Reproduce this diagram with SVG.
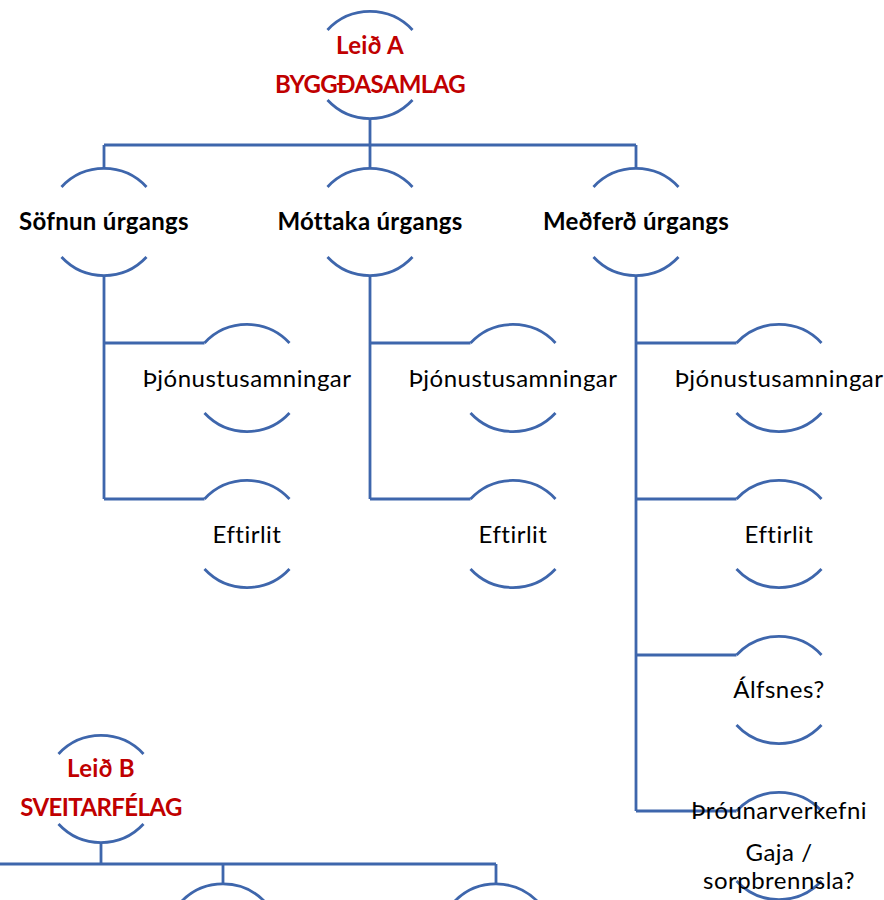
<svg xmlns="http://www.w3.org/2000/svg" width="884" height="900" viewBox="0 0 884 900">
<defs>
<style>
.arc{fill:none;stroke:#3E66AC;stroke-width:2.8}
.con{fill:none;stroke:#3E66AC;stroke-width:2.8}
.t{font-family:Lato,"Open Sans","Liberation Sans",sans-serif;font-size:24px;text-anchor:middle;fill:#000;letter-spacing:0.5px}
.b{font-weight:bold;letter-spacing:0.3px}
.r{fill:#C00000;font-weight:bold;letter-spacing:0.3px}
.cap{letter-spacing:-0.6px}
</style>
<path id="ring" class="arc" d="M-42.5,-35 A58,58 0 0 1 42.5,-35 M-42.5,35 A58,58 0 0 0 42.5,35"/>
</defs>
<rect width="884" height="900" fill="#fff"/>
<g id="connectors" class="con">
<path d="M370,118.5 V145 M104,145 H636 M104,145 V168.5 M370,145 V168.5 M636,145 V168.5"/>
<path d="M104,275.5 V499 M104,343 H204.5 M104,499 H204.5"/>
<path d="M370,275.5 V499 M370,343 H470.5 M370,499 H470.5"/>
<path d="M636,275.5 V811 M636,343 H736.5 M636,499 H736.5 M636,655 H736.5 M636,811 H736.5"/>
<path d="M101,842.5 V864 M0,864 H496 M223,864 V884 M496,864 V884"/>
</g>
<g id="leidA"><use href="#ring" x="370" y="65"/><text class="t r" x="370" y="54">Leið A</text><text class="t r cap" x="370" y="93">BYGGÐASAMLAG</text></g>
<g id="sofnun"><use href="#ring" x="104" y="222"/><text class="t b" x="104" y="230">Söfnun úrgangs</text></g>
<g id="mottaka"><use href="#ring" x="370" y="222"/><text class="t b" x="370" y="230">Móttaka úrgangs</text></g>
<g id="medferd"><use href="#ring" x="636" y="222"/><text class="t b" x="636" y="230">Meðferð úrgangs</text></g>
<g id="s-thjon"><use href="#ring" x="247" y="378"/><text class="t" x="247" y="387">Þjónustusamningar</text></g>
<g id="s-eft"><use href="#ring" x="247" y="534"/><text class="t" x="247" y="543">Eftirlit</text></g>
<g id="m-thjon"><use href="#ring" x="513" y="378"/><text class="t" x="513" y="387">Þjónustusamningar</text></g>
<g id="m-eft"><use href="#ring" x="513" y="534"/><text class="t" x="513" y="543">Eftirlit</text></g>
<g id="d-thjon"><use href="#ring" x="779" y="378"/><text class="t" x="779" y="387">Þjónustusamningar</text></g>
<g id="d-eft"><use href="#ring" x="779" y="534"/><text class="t" x="779" y="543">Eftirlit</text></g>
<g id="d-alf"><use href="#ring" x="779" y="690"/><text class="t" x="779" y="698">Álfsnes?</text></g>
<g id="d-thro"><use href="#ring" x="779" y="846"/><text class="t" x="779" y="819">Þróunarverkefni</text><text class="t" x="779" y="861">Gaja /</text><text class="t" x="779" y="889">sorpbrennsla?</text></g>
<g id="leidB"><use href="#ring" x="101" y="789"/><text class="t r" x="101" y="777">Leið B</text><text class="t r cap" x="101" y="816">SVEITARFÉLAG</text></g>
<g id="b1"><use href="#ring" x="223" y="937.5"/></g>
<g id="b2"><use href="#ring" x="496" y="937.5"/></g>
</svg>
